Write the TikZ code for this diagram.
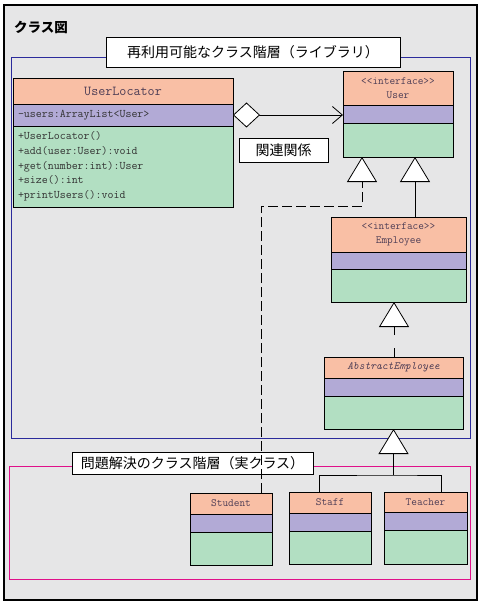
\documentclass[tikz,border=0pt]{standalone}
\usepackage{fontspec}
\newfontfamily\cjk{Noto Sans CJK JP}
\usetikzlibrary{positioning,arrows.meta}

\definecolor{headc}{HTML}{F9BFA5}
\definecolor{attrc}{HTML}{B2AAD6}
\definecolor{opsc}{HTML}{B2DFC2}
\definecolor{bgc}{HTML}{E6E6E7}
\definecolor{libc}{HTML}{2B2B9C}
\definecolor{appc}{HTML}{E0108A}
\definecolor{namec}{HTML}{4D3D55}

\tikzset{
    box/.style={draw, line width=0.8pt, inner sep=0pt, outer sep=0pt},
    head/.style={box, fill=headc, text=namec, align=center, font=\ttfamily\fontsize{11}{14.5}\selectfont},
    attr/.style={box, fill=attrc, text=black!80, align=left, font=\ttfamily\fontsize{11.6}{14.7}\selectfont},
    ops/.style={box, fill=opsc, text=black!80, align=left, font=\ttfamily\fontsize{11.6}{14.7}\selectfont},
    title/.style={draw, fill=white, line width=0.8pt, inner sep=0pt, font=\cjk\fontsize{14}{16}\selectfont},
    realize/.style={dash pattern=on 10pt off 4pt},
    inherit/.style={line width=0.8pt, -{Triangle[length=25pt,width=30pt,fill=white]}}
}

\begin{document}
\begin{tikzpicture}[x=1pt, y=-1pt]
    \useasboundingbox (0,0) rectangle (482,604);

    % Frame
    \draw[line width=1.2pt, fill=bgc] (4,5) rectangle (477,600);
    \node[anchor=west, inner sep=0pt, font=\cjk\bfseries\fontsize{13.5}{16}\selectfont] (fig) at (14,27) {クラス図};

    % Areas
    \draw[libc, line width=0.8pt] (11,57) rectangle (470,438);
    \draw[appc, line width=0.8pt] (9,466) rectangle (470,579);
    \node[title, minimum width=294pt, minimum height=30pt] (lib) at (253,52) {再利用可能なクラス階層（ライブラリ）};
    \node[title, minimum width=241pt, minimum height=22pt] (app) at (192.5,463) {問題解決のクラス階層（実クラス）};

    % UserLocator
    \node[head, anchor=north west, minimum width=220pt, minimum height=26pt, font=\ttfamily\fontsize{13.7}{15}\selectfont] (ul-h) at (13,78) {UserLocator};
    \node[attr, below=0pt of ul-h, minimum height=22pt, inner xsep=5pt, text width=210pt] (ul-a) {-users:ArrayList<User>};
    \node[ops, below=0pt of ul-a, minimum height=81pt, inner xsep=5pt, text width=210pt] (ul-o) {+UserLocator()\\+add(user:User):void\\+get(number:int):User\\+size():int\\+printUsers():void};

    % User
    \node[head, anchor=north west, minimum width=110pt, minimum height=34pt] (us-h) at (343,71) {<<interface>>\\User};
    \node[attr, below=0pt of us-h, minimum width=110pt, minimum height=18pt] (us-a) {};
    \node[ops, below=0pt of us-a, minimum width=110pt, minimum height=34pt] (us-o) {};

    % Employee
    \node[head, anchor=north west, minimum width=135pt, minimum height=35pt] (em-h) at (331,217) {<<interface>>\\Employee};
    \node[attr, below=0pt of em-h, minimum width=135pt, minimum height=17pt] (em-a) {};
    \node[ops, below=0pt of em-a, minimum width=135pt, minimum height=33pt] (em-o) {};

    % AbstractEmployee
    \node[head, anchor=north west, minimum width=139pt, minimum height=21pt] (ab-h) at (324,357) {\itshape AbstractEmployee};
    \node[attr, below=0pt of ab-h, minimum width=139pt, minimum height=18pt] (ab-a) {};
    \node[ops, below=0pt of ab-a, minimum width=139pt, minimum height=33pt] (ab-o) {};

    % Student, Staff, Teacher
    \node[head, anchor=north west, minimum width=82pt, minimum height=21pt] (st-h) at (190,493) {Student};
    \node[attr, below=0pt of st-h, minimum width=82pt, minimum height=18pt] (st-a) {};
    \node[ops, below=0pt of st-a, minimum width=82pt, minimum height=33pt] (st-o) {};
    \node[head, anchor=north west, minimum width=82pt, minimum height=21pt] (sf-h) at (289,492) {Staff};
    \node[attr, below=0pt of sf-h, minimum width=82pt, minimum height=18pt] (sf-a) {};
    \node[ops, below=0pt of sf-a, minimum width=82pt, minimum height=33pt] (sf-o) {};
    \node[head, anchor=north west, minimum width=83pt, minimum height=20pt] (te-h) at (384,492) {Teacher};
    \node[attr, below=0pt of te-h, minimum width=83pt, minimum height=18pt] (te-a) {};
    \node[ops, below=0pt of te-a, minimum width=83pt, minimum height=34pt] (te-o) {};

    % Connector ends
    \coordinate (us-l) at (362,157);
    \coordinate (us-r) at (415,157);
    \coordinate (em-t) at (394,302);
    \coordinate (bend) at (261,206);
    \coordinate (st-t) at (261,493);
    \coordinate (sf-t) at (319,492);
    \coordinate (te-t) at (441,492);
    \coordinate (join) at (393.5,475);

    % Association
    \draw[line width=0.8pt, {Diamond[length=27pt,width=25pt,fill=white]}-{Straight Barb[length=10pt,width=17pt]}] (ul-a.east) -- (ul-a.east -| us-a.west);
    \node[title, minimum width=89pt, minimum height=24pt] (assoc) at (283.5,150) {関連関係};

    % Generalization
    \draw[inherit] (us-r |- em-h.north) -- (us-r);
    \draw[inherit, realize] (st-t) -- (bend) -| (us-l);
    \draw[inherit, dash pattern=on 9pt off 13pt] (em-t |- ab-h.north) -- (em-t);
    \draw[inherit] (join) -- (ab-o.south);
    \draw[line width=0.8pt] (sf-t) |- (join) -| (te-t);
\end{tikzpicture}
\end{document}
